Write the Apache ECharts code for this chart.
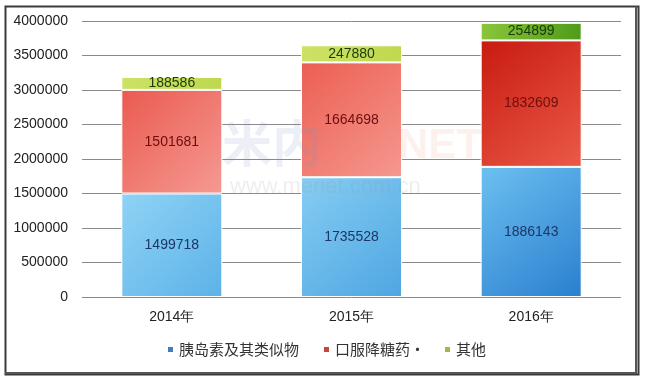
<!DOCTYPE html>
<html><head><meta charset="utf-8">
<script src="https://cdn.jsdelivr.net/npm/echarts@6/dist/echarts.min.js"></script>
<style>html,body{margin:0;padding:0;background:#fff}#c{width:645px;height:380px}</style>
</head><body><div id="c"></div>
<script>
var categories = ['2014年', '2015年', '2016年'];
var insulin = [1499718, 1735528, 1886143];
var oral = [1501681, 1664698, 1832609];
var other = [188586, 247880, 254899];
var seriesNames = ['胰岛素及其类似物', '口服降糖药·', '其他'];

function grad(c0, c1) {
  return new echarts.graphic.LinearGradient(0, 0, 1, 1, [{offset: 0, color: c0}, {offset: 1, color: c1}]);
}
var blueG = [grad('#8fd3f5', '#5cb2e8'), grad('#86cdf3', '#4ea6e2'), grad('#6cc0f0', '#2a7fcf')];
var redG = [grad('#ea5a50', '#f59a92'), grad('#ec5e52', '#f5988f'), grad('#c81a10', '#ea5a48')];
var greenG = [grad('#cde266', '#bed84e'), grad('#cde266', '#bed84e'), grad('#8cc63a', '#4e9a1a')];

function items(vals, gs) {
  return vals.map(function (v, i) { return {value: v, itemStyle: {color: gs[i]}}; });
}
var lbl = function (c) { return {show: true, position: 'inside', color: c, fontSize: 14, fontFamily: 'Liberation Sans'}; };
var legendColors = ['#3d7dc0', '#c9463c', '#9bbb46'];
var legendLefts = [166, 322, 443];

var chart = echarts.init(document.getElementById('c'));
chart.setOption({
  animation: false,
  backgroundColor: '#fff',
  grid: {left: 82, right: 24, top: 21, bottom: 83},
  legend: seriesNames.map(function (n, i) {
    return {
      top: 342, left: legendLefts[i], padding: 0, itemWidth: 7, itemHeight: 7, icon: 'rect',
      textStyle: {fontSize: 15, color: '#333', fontFamily: 'Noto Sans CJK SC'},
      data: [{name: n, itemStyle: {color: legendColors[i]}}]
    };
  }),
  xAxis: {
    type: 'category', data: categories,
    axisLine: {show: false}, axisTick: {show: false},
    axisLabel: {color: '#222', fontSize: 14, margin: 13, fontFamily: 'Liberation Sans'}
  },
  yAxis: {
    type: 'value', min: 0, max: 4000000, interval: 500000,
    axisLine: {show: false}, axisTick: {show: false},
    axisLabel: {color: '#222', fontSize: 14, margin: 14, fontFamily: 'Liberation Sans',
      formatter: function (v) { return String(v); }},
    splitLine: {lineStyle: {color: '#8a8a8a', width: 1}}
  },
  series: [
    {name: seriesNames[0], type: 'bar', stack: 's', barWidth: 101, data: items(insulin, blueG),
     itemStyle: {color: '#3d7dc0', borderColor: '#fff', borderWidth: 1}, label: lbl('#1c3766')},
    {name: seriesNames[1], type: 'bar', stack: 's', barWidth: 101, data: items(oral, redG),
     itemStyle: {color: '#c9463c', borderColor: '#fff', borderWidth: 1}, label: lbl('#6e0d0d')},
    {name: seriesNames[2], type: 'bar', stack: 's', barWidth: 101, data: items(other, greenG),
     itemStyle: {color: '#9bbb46', borderColor: '#fff', borderWidth: 1}, label: lbl('#1b3a0c')}
  ],
  graphic: [
    {type: 'rect', left: 3, top: 4, shape: {width: 633, height: 368},
     style: {fill: 'none', stroke: '#3a3a3a', lineWidth: 2}, z: 100, silent: true},
    {type: 'rect', left: 635, top: 6, shape: {width: 2, height: 368},
     style: {fill: '#555'}, z: 100, silent: true},
    {type: 'rect', left: 5, top: 372, shape: {width: 632, height: 2},
     style: {fill: '#555'}, z: 100, silent: true},
    {type: 'text', left: 222, top: 118, z: 50, silent: true,
     style: {text: '米内', font: 'bold 50px "Noto Sans CJK SC"', fill: 'rgba(120,150,190,0.14)'}},
    {type: 'text', left: 398, top: 125, z: 50, silent: true,
     style: {text: 'NET', font: 'bold 42px "Liberation Sans"', fill: 'rgba(230,140,110,0.12)'}},
    {type: 'text', left: 230, top: 176, z: 50, silent: true,
     style: {text: 'www.menet.com.cn', font: '22px "Liberation Sans"', fill: 'rgba(150,150,150,0.16)'}}
  ]
});
</script></body></html>
